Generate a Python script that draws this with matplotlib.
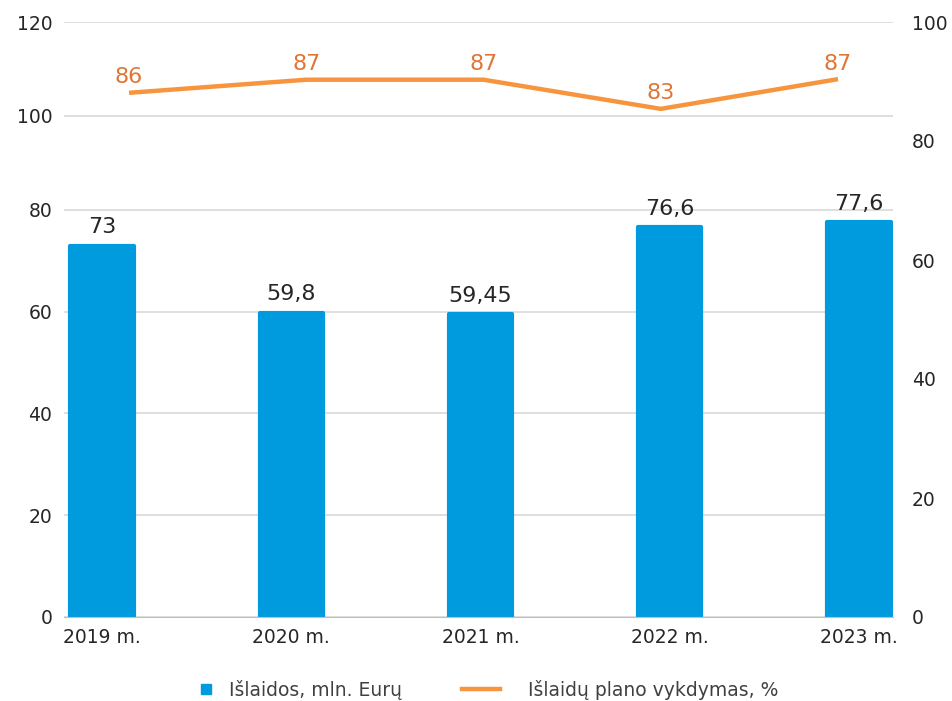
import numpy as np
import matplotlib.pyplot as plt

plt.rcParams['font.family'] = ['DejaVu Sans']

years = ["2019 m.", "2020 m.", "2021 m.", "2022 m.", "2023 m."]
spend = [73, 59.8, 59.45, 76.6, 77.6]
spend_labels = ["73", "59,8", "59,45", "76,6", "77,6"]
# plan execution, % and the labels shown
plan_pct = [88.1, 90.3, 90.3, 85.4, 90.4]
plan_labels = ["86", "87", "87", "83", "87"]

BLUE = "#009ADE"
ORANGE = "#F7953F"
ORANGE_TXT = "#E07535"
TXT = "#262626"
GRID = "#D9D9D9"

# the source's left axis is squeezed above 80
K = 0.923


def fwd(y):
    y = np.asarray(y, dtype=float)
    return np.where(y <= 80, y, 80 + (y - 80) * K)


def inv(y):
    y = np.asarray(y, dtype=float)
    return np.where(y <= 80, y, 80 + (y - 80) / K)


fig = plt.figure(figsize=(9.52, 7.01), dpi=100)
rect = [64 / 952, 84 / 701, 829 / 952, 595 / 701]
ax = fig.add_axes(rect)

x = np.arange(len(years))
bars = ax.bar(x, spend, width=0.335, color=BLUE, edgecolor=BLUE, lw=3, zorder=2)
for b in bars:
    b.set_joinstyle("round")
ax.set_yscale("function", functions=(fwd, inv))
ax.set_xlim(-0.2007, 4.18)
ax.set_ylim(0, 120)
ax.set_yticks(range(0, 121, 20))
ax.set_yticklabels([str(v) for v in range(0, 121, 20)])
ax.minorticks_off()
ax.set_xticks(x)
ax.set_xticklabels(years)
ax.yaxis.grid(True, color=GRID, lw=1.2, zorder=0)
for s in ["top", "right", "left"]:
    ax.spines[s].set_visible(False)
ax.spines["bottom"].set_color("#BFBFBF")
ax.spines["bottom"].set_zorder(3)
ax.tick_params(length=0, labelsize=13.5, colors=TXT)
ax.tick_params(axis="y", pad=8.5)
ax.tick_params(axis="x", pad=8)
for xi, v, lab in zip(x, spend, spend_labels):
    ax.annotate(lab, (xi, v), xytext=(0, 6), textcoords="offset points",
                ha="center", va="bottom", fontsize=16, color=TXT)

# line sits on its own secondary axes (own x range, like the source chart)
ax2 = fig.add_axes(rect, frameon=False)
ax2.plot(x, plan_pct, color=ORANGE, lw=3.2, solid_capstyle="butt")
ax2.set_xlim(-0.367, 4.31)
ax2.set_ylim(0, 100)
ax2.set_yticks(range(0, 101, 20))
ax2.set_xticks([])
ax2.yaxis.tick_right()
ax2.tick_params(length=0, labelsize=13.5, colors=TXT, pad=13.5)
for xi, v, lab in zip(x, plan_pct, plan_labels):
    ax2.annotate(lab, (xi, v), xytext=(0, 4), textcoords="offset points",
                 ha="center", va="bottom", fontsize=16, color=ORANGE_TXT)

h1 = plt.Line2D([], [], marker="s", ls="none", color=BLUE, markersize=7.5)
h2 = plt.Line2D([], [], color=ORANGE, lw=3.2)
leg_y = 1 - 690 / 701
fig.legend([h1], ["Išlaidos, mln. Eurų"], loc="center left",
           bbox_to_anchor=(187 / 952, leg_y), frameon=False, fontsize=13.5,
           labelcolor="#404040", handlelength=2.0, handletextpad=0.22,
           borderpad=0, borderaxespad=0)
fig.legend([h2], ["Išlaidų plano vykdymas, %"], loc="center left",
           bbox_to_anchor=(462 / 952, leg_y), frameon=False, fontsize=13.5,
           labelcolor="#404040", handlelength=2.03, handletextpad=1.5,
           borderpad=0, borderaxespad=0)

fig.savefig("out.png", dpi=100)
